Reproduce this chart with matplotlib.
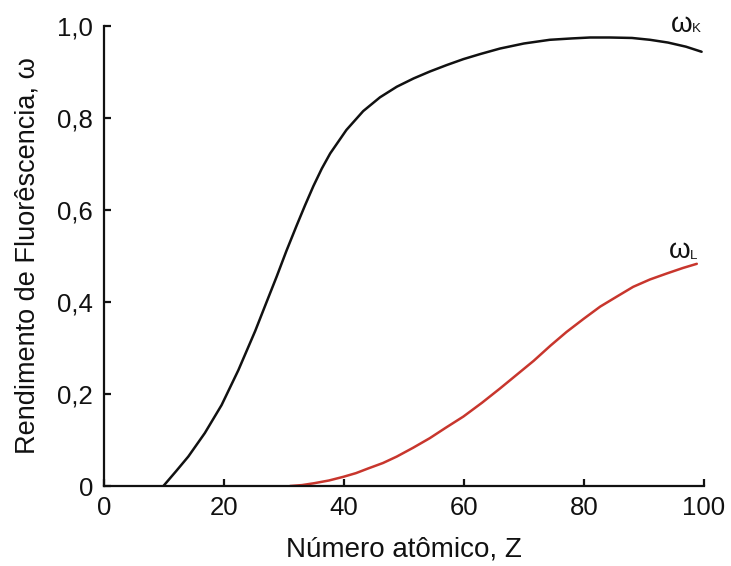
import matplotlib
matplotlib.use("Agg")
import matplotlib.pyplot as plt

plt.rcParams['font.family'] = ['Liberation Sans', 'DejaVu Sans']

# omega_K
zk = [9.9, 12.0, 14.05, 16.8, 19.6, 22.4, 25.2, 27.1, 28.8, 30.4, 32.1, 33.5, 34.9, 36.3, 37.7,
      40.4, 43.2, 46.0, 48.8, 51.6, 54.3, 57.1, 59.9, 62.7, 66.0, 70.0, 74.3,
      78.0, 81.0, 84.3, 88.0, 91.0, 94.0, 97.0, 99.6]
wk = [0.0, 0.032, 0.064, 0.115, 0.176, 0.252, 0.337, 0.400, 0.456, 0.511, 0.566, 0.610, 0.652, 0.690, 0.723,
      0.774, 0.815, 0.845, 0.868, 0.886, 0.901, 0.915, 0.928, 0.939, 0.951, 0.962, 0.970,
      0.973, 0.975, 0.975, 0.974, 0.970, 0.964, 0.955, 0.944]

# omega_L
zl = [31.0, 33.0, 35.0, 37.5, 39.9, 42.0, 44.0, 46.5, 48.8, 51.5, 54.3, 57.0, 59.9,
      63.0, 66.0, 68.8, 71.6, 74.4, 77.1, 80.0, 82.7, 85.5, 88.2, 91.0, 93.8, 96.5, 98.8]
wl = [0.0, 0.002, 0.006, 0.012, 0.020, 0.028, 0.038, 0.050, 0.064, 0.083, 0.104, 0.127, 0.151,
      0.181, 0.212, 0.242, 0.272, 0.305, 0.335, 0.364, 0.390, 0.412, 0.433, 0.449, 0.462, 0.474, 0.483]

xticks = [0, 20, 40, 60, 80, 100]
xticklabels = ['0', '20', '40', '60', '80', '100']
yticks = [0, 0.2, 0.4, 0.6, 0.8, 1.0]
yticklabels = ['0', '0,2', '0,4', '0,6', '0,8', '1,0']

fig = plt.figure(figsize=(7.31, 5.66), dpi=100)
ax = fig.add_axes([104/731, 80/566, 600/731, 460/566])

ax.plot(zk, wk, color='#111111', lw=1.8, solid_capstyle='round', solid_joinstyle='round')
ax.plot(zl, wl, color='#c8362d', lw=1.8, solid_capstyle='round', solid_joinstyle='round')

ax.set_xlim(0, 100)
ax.set_ylim(0, 1.0)
ax.set_xticks(xticks)
ax.set_xticklabels(xticklabels)
ax.set_yticks(yticks)
ax.set_yticklabels(yticklabels)

for s in ['top', 'right']:
    ax.spines[s].set_visible(False)
for s in ['left', 'bottom']:
    ax.spines[s].set_linewidth(1.6)
    ax.spines[s].set_color('#111111')

ax.tick_params(direction='in', length=5, width=1.6, color='#111111',
               labelsize=18.5, labelcolor='#111111')
ax.tick_params(axis='y', pad=8)
ax.tick_params(axis='x', pad=7)

ax.set_xlabel('Número atômico, Z', fontsize=20, color='#111111', labelpad=12)
ax.set_ylabel('Rendimento de Fluorêscencia, ω', fontsize=19.5, color='#111111', labelpad=12)

ax.text(94.5, 1.003, 'ω', fontsize=20, ha='left', va='center', color='#111111', clip_on=False)
ax.text(98.0, 0.993, 'K', fontsize=9.5, ha='left', va='center', color='#111111', clip_on=False)
ax.text(94.2, 0.511, 'ω', fontsize=20, ha='left', va='center', color='#111111', clip_on=False)
ax.text(97.7, 0.501, 'L', fontsize=9.5, ha='left', va='center', color='#111111', clip_on=False)

fig.savefig('out.png', dpi=100)
